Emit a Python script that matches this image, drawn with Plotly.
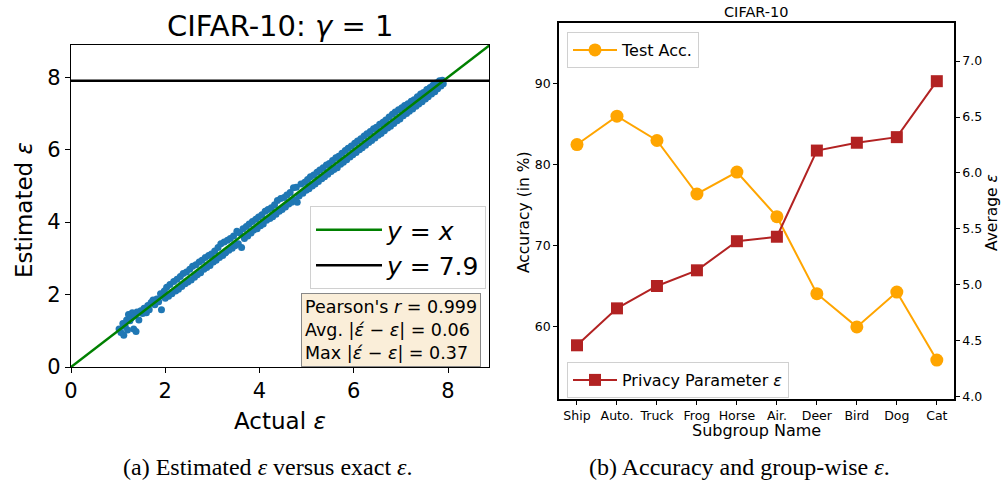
import plotly.graph_objects as go

# ---------------- data: panel (a) ----------------
actual_eps = [
    1.02, 1.06, 1.10, 1.12, 1.15, 1.18, 1.20, 1.22, 1.25, 1.28, 1.30, 1.33, 1.35, 1.38, 1.40, 1.44,
    1.48, 1.52, 1.55, 1.60, 1.63, 1.66, 1.70, 1.74, 1.78, 1.82, 1.86, 1.90, 1.92, 1.95, 1.98, 2.00,
    2.03, 2.07, 2.10, 2.14, 2.18, 2.22, 2.25, 2.28, 2.32, 2.35, 2.38, 2.42, 2.45, 2.48, 2.52, 2.55,
    2.58, 2.62, 2.65, 2.68, 2.72, 2.75, 2.78, 2.82, 2.85, 2.88, 2.92, 2.95, 2.98,
    3.02, 3.05, 3.08, 3.12, 3.15, 3.18, 3.22, 3.25, 3.28, 3.32, 3.35, 3.38, 3.42, 3.45, 3.48, 3.52,
    3.55, 3.58, 3.62, 3.65, 3.68, 3.72, 3.75, 3.78, 3.82, 3.85, 3.88, 3.92, 3.95, 3.98,
    4.02, 4.05, 4.08, 4.12, 4.15, 4.18, 4.22, 4.25, 4.28, 4.32, 4.35, 4.38, 4.42, 4.45, 4.48, 4.52,
    4.55, 4.58, 4.62, 4.65, 4.68, 4.72, 4.75, 4.78, 4.80, 4.84, 4.88, 4.92, 4.96, 4.99,
    5.02, 5.05, 5.08, 5.12, 5.15, 5.18, 5.22, 5.25, 5.28, 5.32, 5.35, 5.38, 5.42, 5.45, 5.48, 5.52,
    5.55, 5.58, 5.62, 5.65, 5.68, 5.72, 5.75, 5.78, 5.82, 5.85, 5.88, 5.92, 5.95, 5.98,
    6.02, 6.05, 6.08, 6.12, 6.15, 6.18, 6.22, 6.25, 6.28, 6.32, 6.35, 6.38, 6.42, 6.45, 6.48, 6.52,
    6.55, 6.58, 6.62, 6.65, 6.68, 6.72, 6.75, 6.78, 6.82, 6.85, 6.88, 6.92, 6.95, 6.98,
    7.02, 7.05, 7.08, 7.12, 7.15, 7.18, 7.22, 7.25, 7.28, 7.32, 7.35, 7.38, 7.42, 7.45, 7.48, 7.52,
    7.55, 7.58, 7.62, 7.65, 7.68, 7.72, 7.75, 7.78, 7.82, 7.85, 7.88, 7.90,
]
estimated_eps = [
    1.05, 0.95, 1.20, 0.88, 1.12, 1.30, 1.02, 1.45, 1.28, 1.35, 1.50, 1.05, 1.42, 0.98, 1.52, 1.30,
    1.55, 1.48, 1.62, 1.50, 1.70, 1.58, 1.78, 1.85, 1.72, 1.88, 1.80, 2.02, 1.58, 1.95, 2.10, 1.90,
    2.20, 1.95, 2.28, 2.02, 2.36, 2.10, 2.42, 2.15, 2.50, 2.22, 2.58, 2.30, 2.62, 2.35, 2.70, 2.40,
    2.78, 2.48, 2.82, 2.55, 2.90, 2.60, 2.95, 2.70, 3.02, 2.75, 3.08, 2.80, 3.12,
    2.90, 3.20, 2.95, 3.30, 3.02, 3.40, 3.08, 3.45, 3.15, 3.50, 3.22, 3.55, 3.28, 3.62, 3.35, 3.75,
    3.40, 3.70, 3.30, 3.82, 3.55, 3.88, 3.62, 3.95, 3.70, 4.02, 3.78, 4.08, 3.82, 4.14,
    3.90, 4.20, 3.95, 4.30, 4.05, 4.35, 4.10, 4.40, 4.15, 4.48, 4.22, 4.60, 4.30, 4.65, 4.35, 4.68,
    4.42, 4.75, 4.50, 4.82, 4.55, 4.95, 4.62, 4.96, 4.55, 4.72, 5.05, 4.80, 5.10, 4.88,
    5.18, 4.92, 5.25, 5.00, 5.30, 5.05, 5.38, 5.12, 5.44, 5.20, 5.50, 5.25, 5.58, 5.32, 5.62, 5.40,
    5.70, 5.45, 5.78, 5.50, 5.82, 5.60, 5.90, 5.65, 5.98, 5.72, 6.04, 5.80, 6.10, 5.86,
    6.18, 5.92, 6.24, 6.00, 6.30, 6.05, 6.38, 6.12, 6.44, 6.20, 6.50, 6.25, 6.58, 6.32, 6.62, 6.40,
    6.70, 6.45, 6.76, 6.52, 6.82, 6.60, 6.90, 6.65, 6.98, 6.72, 7.04, 6.80, 7.10, 6.85,
    7.16, 6.94, 7.22, 7.00, 7.27, 7.06, 7.34, 7.12, 7.38, 7.20, 7.46, 7.26, 7.54, 7.32, 7.58, 7.40,
    7.66, 7.46, 7.72, 7.54, 7.78, 7.60, 7.84, 7.68, 7.90, 7.76, 7.92, 7.82,
]
identity_x = [0, 8.9]
cap_value = 7.9
cap_x = [0, 8.9]

# ---------------- data: panel (b) ----------------
subgroups = ["Ship", "Auto.", "Truck", "Frog", "Horse", "Air.", "Deer", "Bird", "Dog", "Cat"]
test_acc = [82.5, 86.0, 83.0, 76.4, 79.1, 73.6, 64.1, 60.0, 64.3, 55.9]
avg_eps = [4.46, 4.79, 4.99, 5.13, 5.39, 5.43, 6.20, 6.27, 6.32, 6.82]

W, H = 1001, 491
def px(x):
    return x / W
def py(y):
    return 1 - y / H

fig = go.Figure()

# panel (a)
fig.add_trace(go.Scatter(
    x=actual_eps, y=estimated_eps, mode="markers",
    marker=dict(color="#1f77b4", size=7, line=dict(width=0)),
    showlegend=False, xaxis="x", yaxis="y", cliponaxis=True))
fig.add_trace(go.Scatter(
    x=identity_x, y=identity_x, mode="lines", line=dict(color="green", width=2.5),
    name="<i>y</i> = <i>x</i>", legend="legend", xaxis="x", yaxis="y"))
fig.add_trace(go.Scatter(
    x=cap_x, y=[cap_value, cap_value], mode="lines", line=dict(color="black", width=2.5),
    name="<i>y</i> = 7.9", legend="legend", xaxis="x", yaxis="y"))

# panel (b)
fig.add_trace(go.Scatter(
    x=subgroups, y=test_acc, mode="lines+markers", name="Test Acc.",
    line=dict(color="orange", width=2), marker=dict(symbol="circle", size=13, color="orange"),
    legend="legend2", xaxis="x2", yaxis="y2"))
fig.add_trace(go.Scatter(
    x=subgroups, y=avg_eps, mode="lines+markers", name="Privacy Parameter <i>ε</i>",
    line=dict(color="firebrick", width=2), marker=dict(symbol="square", size=12, color="firebrick"),
    legend="legend3", xaxis="x2", yaxis="y3"))

font_main = "DejaVu Sans"
ax_common = dict(showgrid=False, zeroline=False, showline=True, linecolor="black",
                 ticks="outside", tickcolor="black", automargin=False)

fig.update_layout(
    width=W, height=H, margin=dict(l=0, r=0, t=0, b=0, autoexpand=False),
    paper_bgcolor="white", plot_bgcolor="white",
    font=dict(family=font_main, color="black"),
    xaxis=dict(domain=[px(71), px(489)], range=[0, 8.87], tickvals=[0, 2, 4, 6, 8],
               mirror=True, linewidth=1.2, ticklen=5, tickfont=dict(size=21), anchor="y", **ax_common),
    yaxis=dict(domain=[py(367), py(45)], range=[0, 8.89], tickvals=[0, 2, 4, 6, 8],
               mirror=True, linewidth=1.2, ticklen=5, tickfont=dict(size=21), anchor="x", **ax_common),
    xaxis2=dict(domain=[px(559), px(954)], range=[-0.45, 9.43], type="category",
                mirror=True, linewidth=1.5, ticklen=4, tickfont=dict(size=12.5), anchor="y2", **ax_common),
    yaxis2=dict(domain=[py(399), py(23)], range=[51.1, 97.5], tickvals=[60, 70, 80, 90],
                linewidth=1.5, ticklen=4, tickfont=dict(size=12.5), anchor="x2", **ax_common),
    yaxis3=dict(overlaying="y2", side="right", range=[3.98, 7.34],
                tickvals=[4.0, 4.5, 5.0, 5.5, 6.0, 6.5, 7.0], ticktext=["4.0", "4.5", "5.0", "5.5", "6.0", "6.5", "7.0"],
                linewidth=1.5, ticklen=4, tickfont=dict(size=12.5), anchor="x2", **ax_common),
    legend=dict(x=px(486), y=py(206), xanchor="right", yanchor="top",
                bgcolor="white", bordercolor="#d0d0d0", borderwidth=1,
                font=dict(size=25), itemwidth=66, tracegroupgap=0),
    legend2=dict(x=px(567), y=py(32), xanchor="left", yanchor="top",
                 bgcolor="white", bordercolor="#d0d0d0", borderwidth=1,
                 font=dict(size=16), itemwidth=44),
    legend3=dict(x=px(567), y=py(362), xanchor="left", yanchor="top",
                 bgcolor="white", bordercolor="#d0d0d0", borderwidth=1,
                 font=dict(size=16), itemwidth=44),
)

ann = []
def add_text(text, x, y, size, angle=0, family=font_main, xanchor="center", yanchor="middle"):
    ann.append(dict(text=text, x=px(x), y=py(y), xref="paper", yref="paper",
                    showarrow=False, font=dict(size=size, family=family, color="black"),
                    textangle=angle, xanchor=xanchor, yanchor=yanchor))

# panel (a) texts
add_text("CIFAR-10: <i>γ</i> = 1", 280, 26, 29)
add_text("Actual <i>ε</i>", 280, 421, 23)
add_text("Estimated <i>ε</i>", 24, 210, 23, angle=-90)
ann.append(dict(
    text="Pearson's <i>r</i> = 0.999<br>Avg. |<i>έ</i> − <i>ε</i>| = 0.06<br>Max |<i>έ</i> − <i>ε</i>| = 0.37",
    x=px(301), y=py(293), xref="paper", yref="paper", xanchor="left", yanchor="top",
    showarrow=False, align="left", font=dict(size=17.5, family=font_main, color="black"),
    bgcolor="rgba(245,222,179,0.5)", bordercolor="#888888", borderwidth=1, borderpad=3))

# panel (b) texts
add_text("CIFAR-10", 756, 12, 14.5)
add_text("Subgroup Name", 756, 430, 16)
add_text("Accuracy (in %)", 524, 212, 15.5, angle=-90)
add_text("Average <i>ε</i>", 992, 213, 15.5, angle=-90)

# captions
add_text("(a) Estimated <i>ε</i> versus exact <i>ε</i>.", 268, 467, 24, family="Liberation Serif")
add_text("(b) Accuracy and group-wise <i>ε</i>.", 739, 467, 24, family="Liberation Serif")

fig.update_layout(annotations=ann)
fig.write_html("out.html", config={"displayModeBar": False},
               post_script="document.body.style.margin='0';")
